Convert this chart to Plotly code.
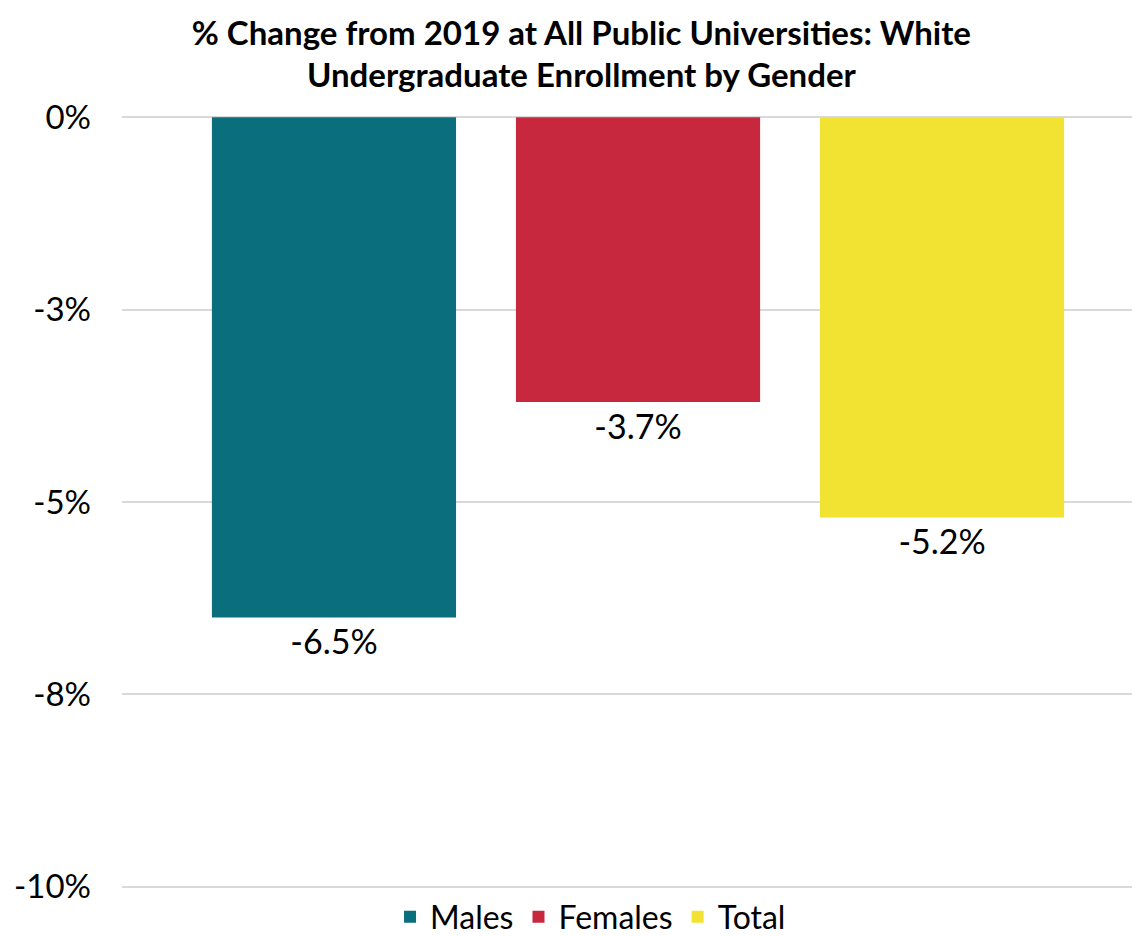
import plotly.graph_objects as go

categories = ["Change"]
series_names = ["Males", "Females", "Total"]
series_values = [[-6.5], [-3.7], [-5.2]]
series_colors = ["#0A6E7C", "#C8283E", "#F2E232"]
tick_vals = [0, -2.5, -5, -7.5, -10]
tick_text = ["0%", "-3%", "-5%", "-8%", "-10%"]

FONT = "Lato, Noto Sans, sans-serif"

fig = go.Figure()
for name, vals, col in zip(series_names, series_values, series_colors):
    fig.add_trace(go.Bar(
        x=categories, y=vals, name=name, marker_color=col,
        marker_line_width=0,
        text=[f"{v:.1f}%" for v in vals], textposition="outside",
        textfont=dict(size=34, color="#000000", family=FONT),
        cliponaxis=False,
    ))

fig.update_layout(
    width=1140, height=936,
    paper_bgcolor="white", plot_bgcolor="white",
    margin=dict(l=114, r=8, t=107, b=55, autoexpand=False),
    barmode="group", bargap=0.104, bargroupgap=0.197,
    title=dict(
        text="<b>% Change from 2019 at All Public Universities: White<br>Undergraduate Enrollment by Gender</b>",
        x=0.503, xref="container", xanchor="center",
        y=0.961, yref="container", yanchor="middle",
        font=dict(size=33, color="#000000", family=FONT),
    ),
    font=dict(family=FONT, color="#000000"),
    showlegend=True,
    legend=dict(
        orientation="h", x=0.511, xref="container", xanchor="center",
        y=0.029, yref="container", yanchor="middle",
        font=dict(size=32, color="#000000", family=FONT),
        traceorder="normal", itemwidth=30,
    ),
    yaxis=dict(
        range=[-10.03, 0.03], tickvals=tick_vals, ticktext=tick_text,
        showgrid=True, gridcolor="#D9D9D9", gridwidth=2,
        zeroline=False, showline=False, automargin=False,
        tickfont=dict(size=33, color="#000000", family=FONT),
        ticks="", ticklabelstandoff=30,
    ),
    xaxis=dict(showticklabels=False, showgrid=False, zeroline=False,
               showline=False, automargin=False,
               range=[-0.5069, 0.4931]),
)

fig.write_html("out.html")
